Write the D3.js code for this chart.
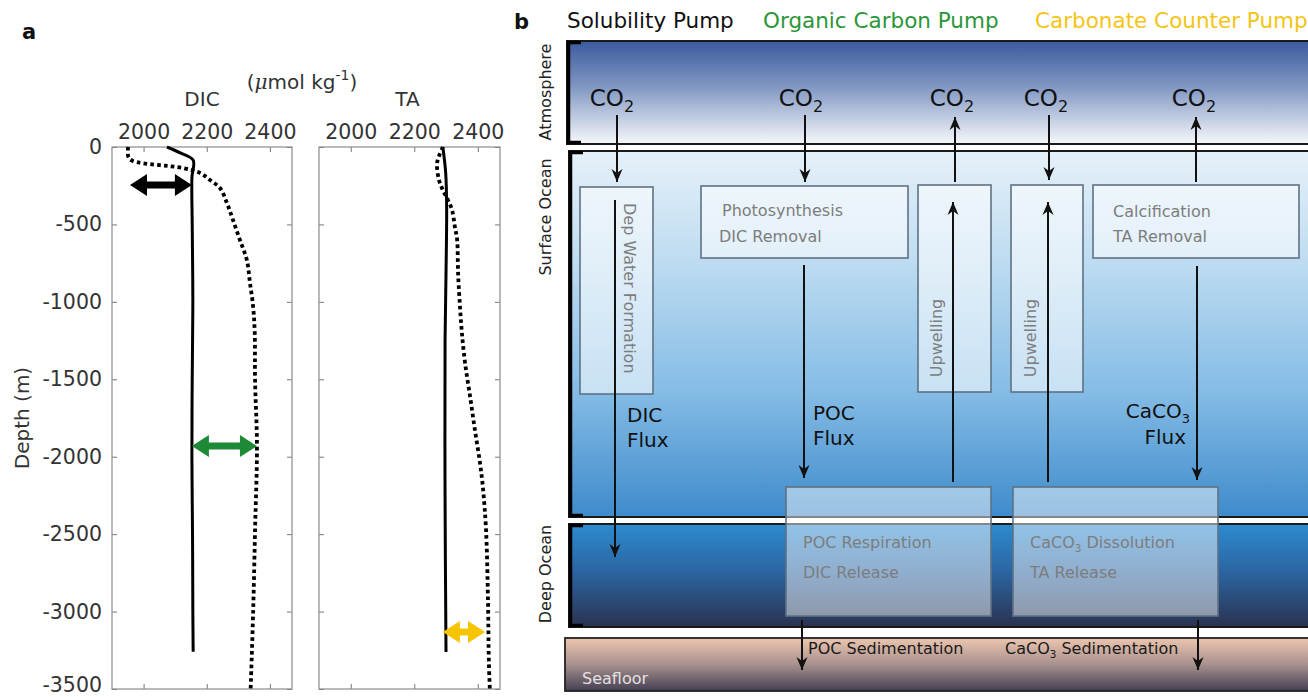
<!DOCTYPE html>
<html>
<head>
<meta charset="utf-8">
<script src="https://cdn.jsdelivr.net/npm/d3@7"></script>
<style>
  body { margin: 0; background: #fff; }
  svg { display: block; font-family: "DejaVu Sans", "Noto Sans", sans-serif; }
</style>
</head>
<body>
<div id="chart"></div>
<script>
// ---- panel a data: [depth (m), concentration (umol/kg)] ----
const depthTicks = [0, -500, -1000, -1500, -2000, -2500, -3000, -3500];
const concTicks = [2000, 2200, 2400];

const dicSolid = [[0, 2074], [40, 2118], [85, 2157], [200, 2153], [500, 2154], [1000, 2156],
  [1500, 2154], [2000, 2153], [2500, 2155], [3000, 2156], [3260, 2157]];
const dicDotted = [[0, 1951], [65, 1952], [90, 1966], [136, 2125], [168, 2179], [213, 2210],
  [265, 2242], [362, 2264], [471, 2283], [600, 2305], [730, 2327], [878, 2337], [1033, 2347],
  [1200, 2352], [1505, 2353], [1931, 2359], [2473, 2353], [3003, 2347], [3500, 2339]];
const taSolid = [[0, 2290], [168, 2299], [387, 2302], [814, 2300], [1246, 2297], [2260, 2297], [3261, 2300]];
const taDotted = [[0, 2290], [103, 2272], [213, 2278], [278, 2290], [342, 2306], [407, 2319],
  [517, 2328], [600, 2335], [814, 2338], [1033, 2344], [1200, 2350], [1395, 2360], [1614, 2376],
  [1827, 2391], [2041, 2407], [2196, 2416], [2473, 2426], [2906, 2432], [3332, 2435], [3500, 2438]];

// difference arrows: depth, from, to
const dicArrows = [
  { depth: 245, from: 1957, to: 2153, color: "#000" },
  { depth: 1931, from: 2153, to: 2359, color: "#1f8a35" }
];
const taArrows = [
  { depth: 3132, from: 2290, to: 2423, color: "#f7c400" }
];

// ---- panel b schematic ----
const pumpTitles = [
  { text: "Solubility Pump", color: "#111" },
  { text: "Organic Carbon Pump", color: "#2a9638" },
  { text: "Carbonate Counter Pump", color: "#f6c414" }
];
const layerNames = ["Atmosphere", "Surface Ocean", "Deep Ocean", "Seafloor"];
const co2Columns = ["down", "down", "up", "down", "up"];

const width = 1308, height = 697;
const svg = d3.select("#chart").append("svg")
  .attr("width", width).attr("height", height);

const defs = svg.append("defs");
function grad(id, stops) {
  const g = defs.append("linearGradient").attr("id", id)
    .attr("x1", 0).attr("y1", 0).attr("x2", 0).attr("y2", 1);
  stops.forEach(s => g.append("stop").attr("offset", s[0]).attr("stop-color", s[1]));
}
grad("gAtm", [[0, "#3a5a9d"], [0.45, "#8298c3"], [1, "#f6f8fb"]]);
grad("gSurf", [[0, "#e6f1f9"], [0.3, "#bedcf1"], [0.65, "#86bde6"], [1, "#3f8bcb"]]);
grad("gDeep", [[0, "#2d8bd0"], [0.45, "#2b66a3"], [1, "#2b3250"]]);
grad("gSea", [[0, "#ecc6b0"], [0.5, "#a8918e"], [1, "#433f53"]]);

defs.append("marker").attr("id", "head")
  .attr("viewBox", "-14 -7 16 14").attr("refX", 0).attr("refY", 0)
  .attr("markerWidth", 16).attr("markerHeight", 14)
  .attr("markerUnits", "userSpaceOnUse").attr("orient", "auto")
  .append("path").attr("d", "M0,0 L-13,-5.5 L-9,0 L-13,5.5 Z").attr("fill", "#111");

// ================= panel a =================
const y = d3.scaleLinear().domain([0, -3500]).range([147, 689]);
const xDic = d3.scaleLinear().domain([1900, 2470]).range([112, 292]);
const xTa = d3.scaleLinear().domain([1900, 2470]).range([319, 500]);

svg.append("text").attr("x", 22).attr("y", 39).attr("font-size", 21)
  .attr("font-weight", "bold").attr("fill", "#111").text("a");

function dblArrow(x1, x2, yy, hw, hl, bw) {
  return `M${x1},${yy} L${x1 + hl},${yy - hw} L${x1 + hl},${yy - bw} L${x2 - hl},${yy - bw}
    L${x2 - hl},${yy - hw} L${x2},${yy} L${x2 - hl},${yy + hw} L${x2 - hl},${yy + bw}
    L${x1 + hl},${yy + bw} L${x1 + hl},${yy + hw} Z`;
}

const plain = d => String(d);

function profilePanel(x, solid, dotted, arrows, showY, title) {
  const g = svg.append("g");
  const [x0, x1] = x.range();
  const [y0, y1] = y.range();

  const top = g.append("g").attr("transform", `translate(0,${y0})`)
    .call(d3.axisTop(x).tickValues(concTicks).tickFormat(plain)
      .tickSizeInner(-5).tickSizeOuter(0).tickPadding(8));
  const bot = g.append("g").attr("transform", `translate(0,${y1})`)
    .call(d3.axisBottom(x).tickValues(concTicks).tickSizeInner(-5).tickSizeOuter(0).tickFormat(""));
  const rgt = g.append("g").attr("transform", `translate(${x1},0)`)
    .call(d3.axisRight(y).tickValues(depthTicks).tickSizeInner(-5).tickSizeOuter(0).tickFormat(""));
  const lft = g.append("g").attr("transform", `translate(${x0},0)`)
    .call(d3.axisLeft(y).tickValues(depthTicks).tickFormat(plain)
      .tickSizeInner(-5).tickSizeOuter(0).tickPadding(10));
  if (!showY) lft.selectAll("text").remove();
  // keep the bottom label inside the picture
  lft.selectAll("text").filter(d => d === -3500).attr("y", -4);
  [top, bot, rgt, lft].forEach(a => {
    a.select(".domain").remove();
    a.selectAll("line").attr("stroke", "#777");
    a.selectAll("text").attr("font-size", 20.5).attr("fill", "#333")
      .attr("font-family", "DejaVu Sans, sans-serif");
  });

  g.append("rect").attr("x", x0).attr("y", y0).attr("width", x1 - x0).attr("height", y1 - y0)
    .attr("fill", "none").attr("stroke", "#8a8a8a").attr("stroke-width", 1.2);

  const line = d3.line().x(d => x(d[1])).y(d => y(-d[0])).curve(d3.curveCatmullRom);
  g.append("path").attr("d", line(solid)).attr("fill", "none")
    .attr("stroke", "#000").attr("stroke-width", 3);
  g.append("path").attr("d", line(dotted)).attr("fill", "none")
    .attr("stroke", "#000").attr("stroke-width", 3.8).attr("stroke-dasharray", "3.6 3.2");

  arrows.forEach(a => {
    g.append("path").attr("d", dblArrow(x(a.from), x(a.to), y(-a.depth), 11, 17, 3.5))
      .attr("fill", a.color);
  });

  g.append("text").attr("x", (x0 + x1) / 2 + (showY ? 0 : -2)).attr("y", 106)
    .attr("text-anchor", "middle").attr("font-size", 20).attr("fill", "#333").text(title);
}

profilePanel(xDic, dicSolid, dicDotted, dicArrows, true, "DIC");
profilePanel(xTa, taSolid, taDotted, taArrows, false, "TA");

const unit = svg.append("text").attr("x", 302).attr("y", 89).attr("text-anchor", "middle")
  .attr("font-size", 20).attr("fill", "#333");
unit.append("tspan").text("(");
unit.append("tspan").attr("font-style", "italic").attr("font-family", "DejaVu Serif, serif").text("\u03bc");
unit.append("tspan").text("mol kg");
unit.append("tspan").attr("dy", -9).attr("font-size", 14).text("-1");
unit.append("tspan").attr("dy", 9).text(")");

svg.append("text").attr("transform", "translate(29,418) rotate(-90)")
  .attr("text-anchor", "middle").attr("font-size", 20).attr("fill", "#333").text("Depth (m)");

// ================= panel b =================
const b = svg.append("g");
b.append("text").attr("x", 514).attr("y", 29).attr("font-size", 21)
  .attr("font-weight", "bold").attr("fill", "#111").text("b");

const titleX = [567, 763, 1035];
pumpTitles.forEach((t, i) => {
  b.append("text").attr("x", titleX[i]).attr("y", 28).attr("font-size", 21.5)
    .attr("fill", t.color).text(t.text);
});

// layers: name, top, bottom, gradient
const layers = [
  { name: layerNames[0], y0: 41, y1: 144, fill: "url(#gAtm)", lx: 567, ly: 92 },
  { name: layerNames[1], y0: 151, y1: 517, fill: "url(#gSurf)", lx: 569, ly: 217 },
  { name: layerNames[2], y0: 524, y1: 627, fill: "url(#gDeep)", lx: 569, ly: 574 }
];
layers.forEach(l => {
  b.append("rect").attr("x", l.lx).attr("y", l.y0).attr("width", 760).attr("height", l.y1 - l.y0)
    .attr("fill", l.fill).attr("stroke", "#1a1a1a").attr("stroke-width", 2);
  b.append("path")
    .attr("d", `M${l.lx + 14},${l.y0 + 1.5} H${l.lx + 1.5} V${l.y1 - 1.5} H${l.lx + 14}`)
    .attr("fill", "none").attr("stroke", "#000").attr("stroke-width", 3.5);
  b.append("text")
    .attr("transform", `translate(${551},${l.ly}) rotate(-90)`)
    .attr("text-anchor", "middle").attr("font-size", 16).attr("fill", "#222").text(l.name);
});

// seafloor
b.append("rect").attr("x", 565).attr("y", 638).attr("width", 760).attr("height", 53)
  .attr("fill", "url(#gSea)").attr("stroke", "#222").attr("stroke-width", 1.8);
b.append("text").attr("x", 582).attr("y", 684).attr("font-size", 16).attr("fill", "#e4e0e0")
  .text(layerNames[3]);

// process boxes
const boxes = [
  { x: 580, y: 187, w: 73, h: 207, lower: false },
  { x: 701, y: 186, w: 207, h: 72, lower: false },
  { x: 918, y: 185, w: 73, h: 207, lower: false },
  { x: 1011, y: 185, w: 72, h: 207, lower: false },
  { x: 1093, y: 185, w: 206, h: 73, lower: false },
  { x: 786, y: 487, w: 205, h: 129, lower: true },
  { x: 1013, y: 487, w: 205, h: 129, lower: true }
];
b.selectAll("rect.box").data(boxes).join("rect").attr("class", "box")
  .attr("x", d => d.x).attr("y", d => d.y).attr("width", d => d.w).attr("height", d => d.h)
  .attr("fill", "#fff").attr("fill-opacity", d => d.lower ? 0.48 : 0.55)
  .attr("stroke", "#5e7284").attr("stroke-width", 1.6);

const grey = "#7d7d7d";
// text with optional subscript "3" parts
function richText(x, yy, parts, opts) {
  const size = opts.size || 16;
  const t = b.append("text").attr("x", x).attr("y", yy).attr("font-size", size)
    .attr("fill", opts.color || "#111").attr("text-anchor", opts.anchor || "start");
  parts.forEach((p, i) => {
    if (p === "3") t.append("tspan").attr("dy", size * 0.25).attr("font-size", size * 0.65).text("3");
    else t.append("tspan").attr("dy", i > 0 && parts[i - 1] === "3" ? -size * 0.25 : 0).text(p);
  });
  return t;
}
richText(722, 216, ["Photosynthesis"], { color: grey });
richText(719, 242, ["DIC Removal"], { color: grey });
richText(1113, 217, ["Calcification"], { color: grey });
richText(1113, 242, ["TA Removal"], { color: grey });
richText(803, 548, ["POC Respiration"], { color: grey });
richText(803, 578, ["DIC Release"], { color: grey });
richText(1030, 548, ["CaCO", "3", " Dissolution"], { color: grey });
richText(1030, 578, ["TA Release"], { color: grey });
b.append("text").attr("transform", "translate(624,203) rotate(90)")
  .attr("font-size", 16).attr("fill", grey).text("Dep Water Formation");
[936, 1030].forEach(cx => {
  b.append("text").attr("transform", `translate(${cx + 6},338) rotate(-90)`)
    .attr("text-anchor", "middle").attr("font-size", 16).attr("fill", grey).text("Upwelling");
});

// CO2 labels
const co2X = [617, 806, 957, 1051, 1199];
co2Columns.forEach((dir, i) => {
  const t = b.append("text").attr("x", co2X[i] - 5).attr("y", 106).attr("text-anchor", "middle")
    .attr("font-size", 23).attr("fill", "#111");
  t.append("tspan").text("CO");
  t.append("tspan").attr("dy", 6).attr("font-size", 16).text("2");
});

// arrows
const arrows = [
  [617, 115, 617, 182], [805, 115, 805, 182], [955, 182, 955, 117], [1049, 115, 1049, 180],
  [1196, 182, 1196, 117], [615, 200, 615, 557], [804, 265, 804, 478], [953, 482, 953, 202],
  [1048, 482, 1048, 202], [1197, 266, 1197, 480], [802, 620, 802, 670], [1198, 620, 1198, 670]
];
b.selectAll("line.arrow").data(arrows).join("line").attr("class", "arrow")
  .attr("x1", d => d[0]).attr("y1", d => d[1]).attr("x2", d => d[2]).attr("y2", d => d[3])
  .attr("stroke", "#111").attr("stroke-width", 2).attr("marker-end", "url(#head)");

// flux labels
richText(627, 422, ["DIC"], { size: 20 });
richText(627, 447, ["Flux"], { size: 20 });
richText(813, 420, ["POC"], { size: 20 });
richText(813, 445, ["Flux"], { size: 20 });
richText(1190, 418, ["CaCO", "3"], { size: 20, anchor: "end" });
richText(1186, 444, ["Flux"], { size: 20, anchor: "end" });
richText(808, 654, ["POC Sedimentation"], { size: 16, color: "#1a1a1a" });
richText(1005, 654, ["CaCO", "3", " Sedimentation"], { size: 16, color: "#1a1a1a" });
</script>
</body>
</html>
